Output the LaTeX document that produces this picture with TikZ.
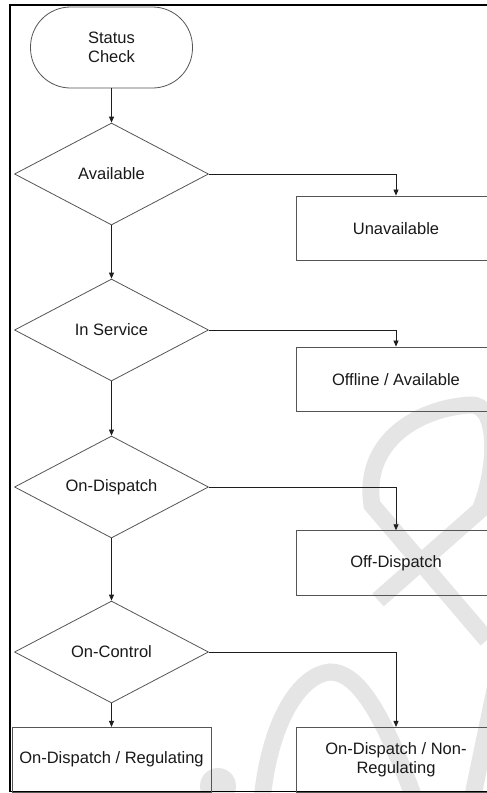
\documentclass[tikz,border=0pt]{standalone}
\usepackage{fontspec}
\setmainfont{Liberation Sans}
\usetikzlibrary{shapes.geometric,arrows.meta}
\definecolor{shapeline}{RGB}{85,85,85}
\definecolor{connline}{RGB}{30,30,30}
\definecolor{wmcol}{RGB}{229,229,229}
\definecolor{txtcol}{RGB}{25,25,25}
\tikzset{
  wm/.style={draw=wmcol, line width=17pt},
  term/.style={draw=shapeline, line width=0.8pt, rectangle, rounded corners=40pt,
    minimum width=162pt, minimum height=81pt, align=center, inner sep=0pt, text=txtcol},
  dec/.style={draw=shapeline, line width=0.8pt, diamond, aspect=1.9,
    minimum width=194pt, minimum height=102pt, inner sep=0pt, text=txtcol},
  rbox/.style={draw=shapeline, line width=0.8pt, rectangle, minimum width=200pt,
    minimum height=64.7pt, align=center, inner sep=0pt, text=txtcol},
  conn/.style={draw=connline, line width=0.8pt, -{Triangle[length=6pt,width=5pt]}},
  frameline/.style={draw=black, line width=1.6pt}
}
\begin{document}
\begin{tikzpicture}[x=1pt,y=-1pt,font=\fontsize{16.5}{19.5}\selectfont]
\useasboundingbox (0,0) rectangle (487,793);
\fill[white] (0,0) rectangle (487,793);
% watermark
\draw[wm] (487,640) -- (372,505) .. controls (362,440) and (420,408) .. (470,405)
  .. controls (500,403) and (497,470) .. (480,510) -- (378,600);
\draw[wm] (262,800) .. controls (270,720) and (300,675) .. (330,672)
  .. controls (360,672) and (385,720) .. (415,800);
\fill[wmcol] (218,786) circle (18pt);
\draw[wm] (497,680) -- (472,800);
% frame
\draw[frameline] (490,5) -- (10,5) -- (10,791.5) -- (490,791.5);
% nodes
\node[term] (start) at (111.5,47.5) {Status\\Check};
\node[dec] (d1) at (111.5,174) {Available};
\node[dec] (d2) at (111.5,330) {In Service};
\node[dec] (d3) at (111.5,487) {On-Dispatch};
\node[dec] (d4) at (111.5,652) {On-Control};
\node[rbox] (b1) at (396,228.3) {Unavailable};
\node[rbox] (b2) at (396,379.3) {Offline / Available};
\node[rbox] (b3) at (396,563) {Off-Dispatch};
\node[rbox] (b4) at (396,759.7) {On-Dispatch / Non-\\Regulating};
\node[rbox, minimum width=199pt] (b5) at (111.5,759.7) {On-Dispatch / Regulating};
% connectors
\draw[conn] (start.south) -- (d1.north);
\draw[conn] (d1.south) -- (d2.north);
\draw[conn] (d2.south) -- (d3.north);
\draw[conn] (d3.south) -- (d4.north);
\draw[conn] (d4.south) -- (b5.north);
\draw[conn] (d1.east) -| (b1.north);
\draw[conn] (d2.east) -| (b2.north);
\draw[conn] (d3.east) -| (b3.north);
\draw[conn] (d4.east) -| (b4.north);
\end{tikzpicture}
\end{document}
